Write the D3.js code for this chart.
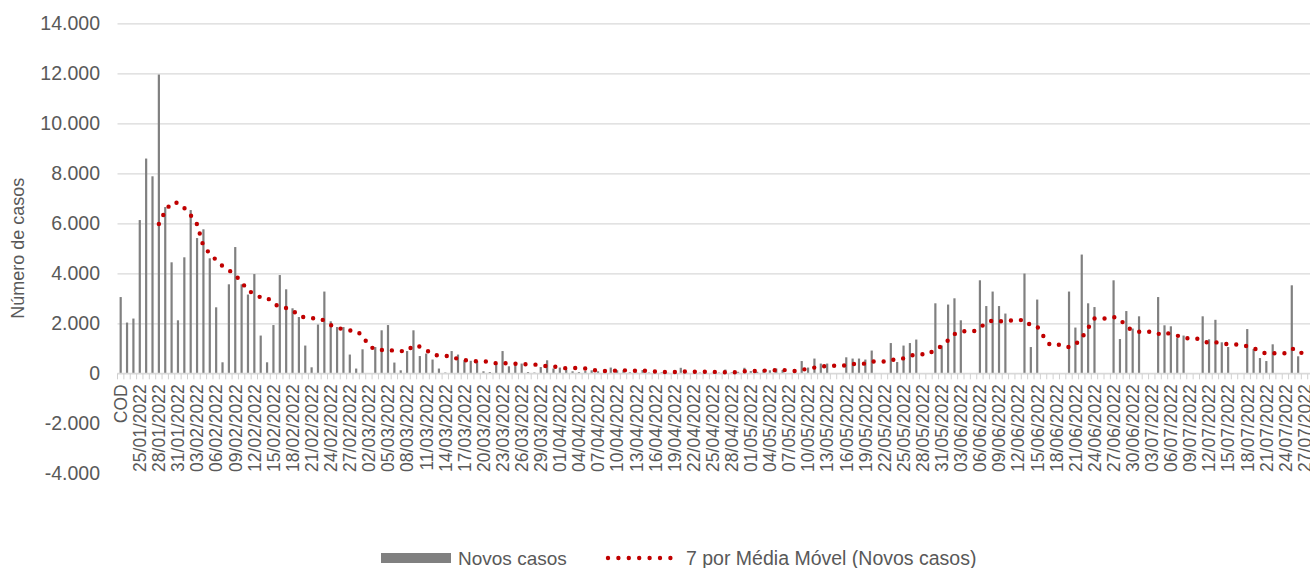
<!DOCTYPE html>
<html><head><meta charset="utf-8">
<script src="https://cdn.jsdelivr.net/npm/d3@7"></script>
<style>
body{margin:0;background:#fff}
svg{display:block}
text{font-family:"Liberation Sans",Arial,sans-serif;fill:#595959}
</style>
</head><body>
<svg id="chart" width="1310" height="568"></svg>
<script>
const categories = ["COD",
"23/01/2022","24/01/2022","25/01/2022","26/01/2022","27/01/2022","28/01/2022","29/01/2022","30/01/2022","31/01/2022",
"01/02/2022","02/02/2022","03/02/2022","04/02/2022","05/02/2022","06/02/2022","07/02/2022","08/02/2022","09/02/2022","10/02/2022",
"11/02/2022","12/02/2022","13/02/2022","14/02/2022","15/02/2022","16/02/2022","17/02/2022","18/02/2022","19/02/2022","20/02/2022",
"21/02/2022","22/02/2022","23/02/2022","24/02/2022","25/02/2022","26/02/2022","27/02/2022","28/02/2022",
"01/03/2022","02/03/2022","03/03/2022","04/03/2022","05/03/2022","06/03/2022","07/03/2022","08/03/2022","09/03/2022","10/03/2022",
"11/03/2022","12/03/2022","13/03/2022","14/03/2022","15/03/2022","16/03/2022","17/03/2022","18/03/2022","19/03/2022","20/03/2022",
"21/03/2022","22/03/2022","23/03/2022","24/03/2022","25/03/2022","26/03/2022","27/03/2022","28/03/2022","29/03/2022","30/03/2022","31/03/2022",
"01/04/2022","02/04/2022","03/04/2022","04/04/2022","05/04/2022","06/04/2022","07/04/2022","08/04/2022","09/04/2022","10/04/2022",
"11/04/2022","12/04/2022","13/04/2022","14/04/2022","15/04/2022","16/04/2022","17/04/2022","18/04/2022","19/04/2022","20/04/2022",
"21/04/2022","22/04/2022","23/04/2022","24/04/2022","25/04/2022","26/04/2022","27/04/2022","28/04/2022","29/04/2022","30/04/2022",
"01/05/2022","02/05/2022","03/05/2022","04/05/2022","05/05/2022","06/05/2022","07/05/2022","08/05/2022","09/05/2022","10/05/2022",
"11/05/2022","12/05/2022","13/05/2022","14/05/2022","15/05/2022","16/05/2022","17/05/2022","18/05/2022","19/05/2022","20/05/2022",
"21/05/2022","22/05/2022","23/05/2022","24/05/2022","25/05/2022","26/05/2022","27/05/2022","28/05/2022","29/05/2022","30/05/2022","31/05/2022",
"01/06/2022","02/06/2022","03/06/2022","04/06/2022","05/06/2022","06/06/2022","07/06/2022","08/06/2022","09/06/2022","10/06/2022",
"11/06/2022","12/06/2022","13/06/2022","14/06/2022","15/06/2022","16/06/2022","17/06/2022","18/06/2022","19/06/2022","20/06/2022",
"21/06/2022","22/06/2022","23/06/2022","24/06/2022","25/06/2022","26/06/2022","27/06/2022","28/06/2022","29/06/2022","30/06/2022",
"01/07/2022","02/07/2022","03/07/2022","04/07/2022","05/07/2022","06/07/2022","07/07/2022","08/07/2022","09/07/2022","10/07/2022",
"11/07/2022","12/07/2022","13/07/2022","14/07/2022","15/07/2022","16/07/2022","17/07/2022","18/07/2022","19/07/2022","20/07/2022",
"21/07/2022","22/07/2022","23/07/2022","24/07/2022","25/07/2022","26/07/2022","27/07/2022"];

const newCases = [
3050,2030,2190,6130,8590,7880,11950,6650,4440,2120,
4640,6530,5410,5760,4600,2640,440,3560,5050,3560,
3150,3970,1510,440,1930,3930,3360,2600,2250,1110,
240,1950,3270,2080,1850,1850,750,190,960,0,
1050,1720,1930,430,120,890,1720,690,790,550,
190,30,890,750,520,500,490,80,50,390,
890,280,450,390,50,30,250,520,190,230,
150,80,50,90,120,80,50,230,120,120,
40,30,130,30,20,40,20,110,220,20,
0,30,20,20,30,150,40,60,220,90,
60,140,120,190,130,0,0,490,230,590,
390,390,0,0,640,590,590,550,910,0,
0,1210,450,1110,1210,1350,0,0,2800,1110,
2750,3000,2120,0,0,3720,2690,3270,2690,2390,
0,0,3990,1050,2950,0,0,0,0,3270,
1830,4750,2800,2650,0,0,3720,1370,2490,1790,
2280,0,0,3050,1920,1880,1410,1510,0,0,
2280,1360,2140,1240,1050,0,0,1770,970,610,
490,1160,0,0,3520,680,0];

const movingAvg7 = [
null,null,null,null,null,null,5970,6490,6830,6820,
6610,6320,5960,5080,4790,4530,4290,4130,3920,3660,
3290,3200,3030,3030,2800,2640,2610,2530,2290,2230,
2200,2210,2110,1930,1820,1760,1710,1710,1500,1100,
950,930,940,900,890,880,1120,1070,940,740,
710,690,690,560,530,490,480,470,470,400,
420,380,380,360,360,350,330,280,270,240,
200,210,210,190,130,110,90,100,110,120,
110,100,100,100,70,60,40,50,80,70,
60,60,60,60,50,40,40,50,80,90,
90,110,100,130,140,100,90,150,170,230,
260,300,300,300,320,370,370,390,470,470,
470,550,530,600,700,760,760,760,990,1080,
1320,1570,1680,1680,1680,1810,2040,2110,2070,2110,
2110,2110,2150,1910,1870,1480,1140,1140,1140,1040,
1150,1410,1810,2190,2190,2190,2250,2180,1860,1720,
1660,1660,1660,1570,1650,1560,1510,1400,1400,1400,
1290,1210,1240,1220,1150,1150,1150,1080,1020,850,
800,800,800,800,980,960,680];

const yTickValues = [-4000,-2000,0,2000,4000,6000,8000,10000,12000,14000];
const gridValues = [0,2000,4000,6000,8000,10000,12000,14000];
const xLabelStep = 3;
const seriesNames = ["Novos casos","7 por Média Móvel (Novos casos)"];
const yTitle = "Número de casos";

const svg = d3.select("#chart");
const W = 1310;
const left = 117.5, right = 1307.7;
const x = d3.scaleBand().domain(categories).range([left, right]).paddingInner(0).paddingOuter(0);
const y = d3.scaleLinear().domain([-4000, 14000]).range([473.3, 23.3]);
const bw = x.bandwidth();
const ptBR = d3.formatLocale({decimal:",", thousands:".", grouping:[3], currency:["R$",""], minus:"-"});
const fmt = ptBR.format(",d");
const FONT = '"Liberation Sans",Arial,sans-serif';

// gridlines
svg.append("g").attr("transform", `translate(${left},0)`)
  .call(d3.axisLeft(y).tickValues(gridValues).tickSize(-(W - left)).tickFormat(""))
  .call(g => g.select(".domain").remove())
  .call(g => g.selectAll("line").attr("stroke", "#d9d9d9").attr("stroke-width", 1.2));

// y labels
svg.append("g").attr("transform", `translate(100,0)`)
  .call(d3.axisLeft(y).tickValues(yTickValues).tickSize(0).tickPadding(0).tickFormat(fmt))
  .call(g => g.select(".domain").remove())
  .call(g => g.selectAll("text").attr("font-size", "19.5px").attr("fill", "#595959")
     .attr("font-family", FONT));

// y title
svg.append("text").attr("transform", `translate(24,${y(5000)}) rotate(-90)`)
  .attr("text-anchor", "middle").attr("font-size", "18px").text(yTitle);

// x axis: band edge ticks
const y0 = y(0);
const edges = categories.map(c => x(c)).concat([right]);
svg.append("g").selectAll("line").data(edges).join("line")
  .attr("x1", d => d).attr("x2", d => d).attr("y1", y0).attr("y2", y0 + 6)
  .attr("stroke", "#d0d0d0").attr("stroke-width", 1);

// bars
svg.append("g").selectAll("rect").data(newCases).join("rect")
  .attr("x", (d, i) => x(categories[i]) + bw / 2 - 1.1)
  .attr("width", 2.2)
  .attr("y", d => y(Math.max(d, 0)))
  .attr("height", d => Math.abs(y(0) - y(d)))
  .attr("fill", "#808080");

// x axis line + labels
const xAxis = d3.axisBottom(x)
  .tickValues(categories.filter((c, i) => i % xLabelStep === 0))
  .tickSize(0).tickPadding(0);
svg.append("g").attr("transform", `translate(0,${y0})`)
  .call(xAxis)
  .call(g => g.select(".domain").attr("stroke", "#d9d9d9").attr("stroke-width", 1.2)
     .attr("d", `M${left},0H${W}`))
  .call(g => g.selectAll("text")
     .attr("transform", "rotate(-90)")
     .attr("x", -11).attr("y", 0).attr("dy", "0.36em")
     .attr("text-anchor", "end")
     .attr("font-size", "17.5px").attr("fill", "#595959")
     .attr("font-family", FONT));

// moving average
const line = d3.line()
  .defined(d => d != null)
  .x((d, i) => x(categories[i]) + bw / 2)
  .y(d => y(d));
svg.append("path").datum(movingAvg7)
  .attr("d", line)
  .attr("fill", "none").attr("stroke", "#c00000").attr("stroke-width", 4.4)
  .attr("stroke-linecap", "round").attr("stroke-dasharray", "0 10");

// legend
const lg = svg.append("g");
lg.append("rect").attr("x", 381).attr("y", 553).attr("width", 70).attr("height", 10).attr("fill", "#808080");
lg.append("text").attr("x", 458).attr("y", 565).attr("font-size", "19px").text(seriesNames[0]);
lg.append("line").attr("x1", 608).attr("x2", 671).attr("y1", 558).attr("y2", 558)
  .attr("stroke", "#c00000").attr("stroke-width", 4.4)
  .attr("stroke-linecap", "round").attr("stroke-dasharray", "0 10.4");
lg.append("text").attr("x", 686).attr("y", 565).attr("font-size", "19.5px").text(seriesNames[1]);
</script>
</body></html>
